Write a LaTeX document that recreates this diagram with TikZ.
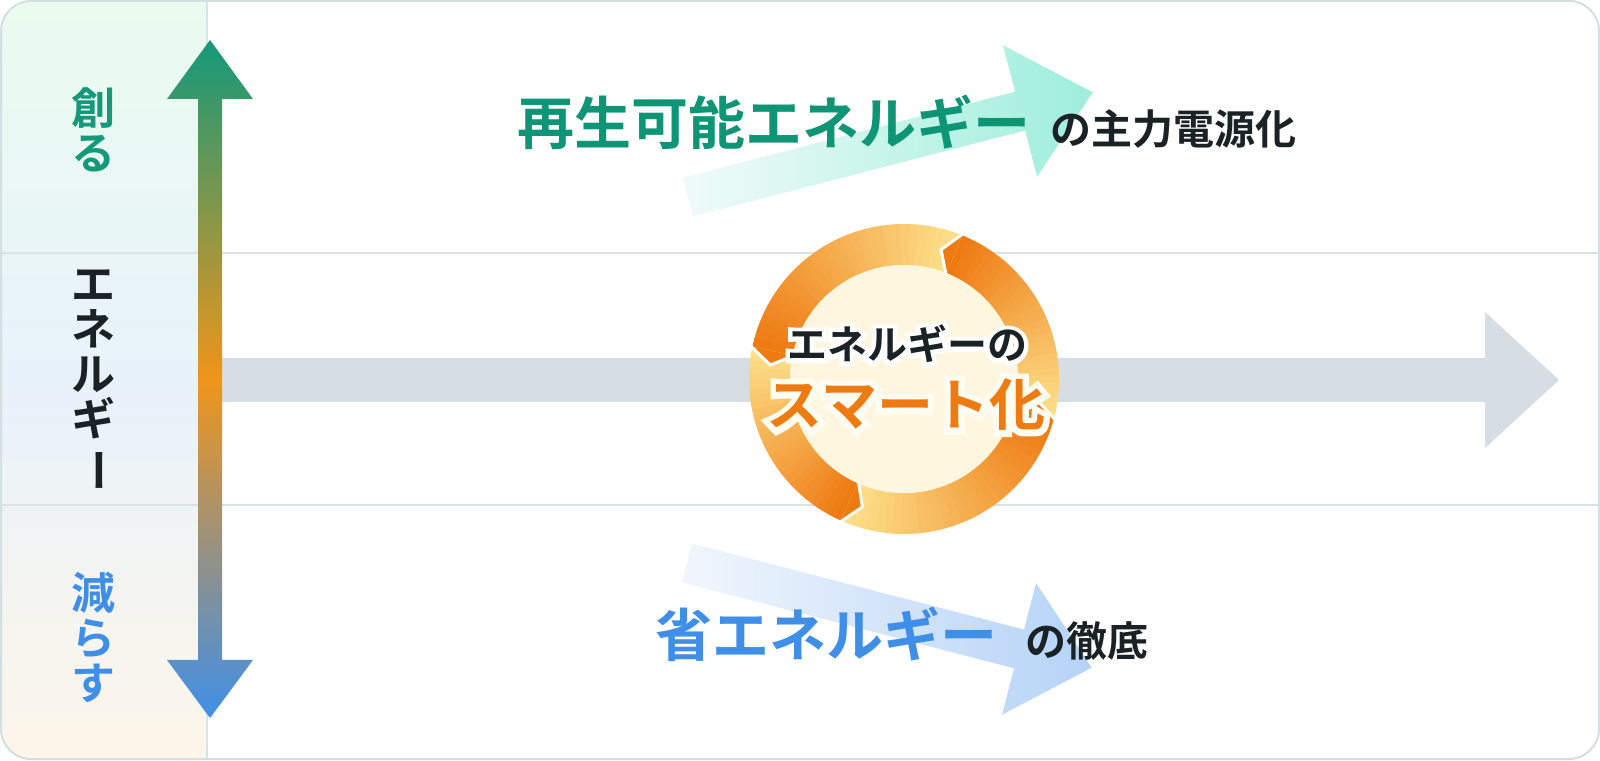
\documentclass[tikz,border=0pt]{standalone}
\usepackage{fontspec}
\setmainfont{Noto Sans CJK JP}[BoldFont={Noto Sans CJK JP Bold}]
\usepackage{graphicx}
\usetikzlibrary{positioning}

\definecolor{frameline}{HTML}{D3DFE0}
\definecolor{gridline}{HTML}{D8E3E4}
\definecolor{panelgreen}{HTML}{EBFBEF}
\definecolor{panelblue}{HTML}{E8F2FB}
\definecolor{panelcream}{HTML}{FDF6E9}
\definecolor{creategreen}{HTML}{14997A}
\definecolor{renewgreen}{HTML}{0E9576}
\definecolor{saveblue}{HTML}{3F8FE8}
\definecolor{midorange}{HTML}{F0951A}
\definecolor{inkdark}{HTML}{1B2225}
\definecolor{flowgrey}{HTML}{D6DDE3}
\definecolor{renewlight}{HTML}{F1FBF9}
\definecolor{renewdark}{HTML}{9EEEDC}
\definecolor{savelight}{HTML}{F1F6FD}
\definecolor{savedark}{HTML}{B5D3F7}
\definecolor{ringlight}{HTML}{FDE08A}
\definecolor{ringdark}{HTML}{EE7A12}
\definecolor{corecream}{HTML}{FFF6DF}
\definecolor{halocream}{HTML}{FFFCF2}

\pgfdeclareverticalshading{updown}{100bp}{color(0bp)=(saveblue); color(25bp)=(saveblue); color(50bp)=(midorange); color(75bp)=(creategreen); color(100bp)=(creategreen)}

% text with a light outline behind it
\newcommand\halotext[3]{\rlap{\addfontfeature{FakeBold=#1}\color{#2}#3}#3}

\tikzset{
  sidetext/.style={font=\bfseries\fontsize{44}{45}\selectfont, align=center, inner sep=0pt},
  bigtext/.style={font=\bfseries\fontsize{57}{57}\selectfont, inner sep=0pt},
  smalltext/.style={font=\bfseries\fontsize{41}{41}\selectfont, text=inkdark, inner sep=0pt},
  coretop/.style={font=\bfseries\fontsize{40}{40}\selectfont, text=inkdark, inner sep=0pt},
  corebig/.style={font=\bfseries\fontsize{56}{56}\selectfont, text=ringdark, inner sep=0pt},
  gridrule/.style={draw=gridline, line width=2pt},
}

\begin{document}
\begin{tikzpicture}[x=1pt, y=1pt]
    \useasboundingbox (0,0) rectangle (1600,760);

    % Frame and left panel
    \fill[white, rounded corners=30pt] (1,1) rectangle (1599,759);
    \begin{scope}
        \clip[rounded corners=30pt] (1,1) rectangle (1599,759);
        \shade[top color=panelgreen, bottom color=panelcream, middle color=panelblue] (0,0) rectangle (207,760);
    \end{scope}

    % Grid lines
    \draw[gridrule] (1,507) -- (1599,507);
    \draw[gridrule] (1,255) -- (1599,255);
    \draw[gridrule] (207,1) -- (207,759);
    \draw[frameline, line width=2pt, rounded corners=30pt] (1,1) rectangle (1599,759);

    % Grey flow arrow
    \fill[flowgrey] (210,358) -- (1485,358) -- (1485,312) -- (1559,380) -- (1485,448) -- (1485,402) -- (210,402) -- cycle;

    % Vertical double arrow
    \shade[shading=updown] (198,100) -- (167,100) -- (210,42) -- (253,100) -- (222,100) -- (222,661)
        -- (253,661) -- (210,720) -- (167,661) -- (198,661) -- cycle;

    % Diagonal arrows
    \begin{scope}[shift={(688,563)}, rotate=14.5]
        \shade[left color=renewlight, right color=renewdark] (0,-20) -- (343,-20) -- (343,-68) -- (418,0)
            -- (343,68) -- (343,20) -- (0,20) -- cycle;
    \end{scope}
    \begin{scope}[shift={(687,197)}, rotate=-14.5]
        \shade[left color=savelight, right color=savedark] (0,-20) -- (343,-20) -- (343,-68) -- (418,0)
            -- (343,68) -- (343,20) -- (0,20) -- cycle;
    \end{scope}

    % Ring of four arrows
    \begin{scope}[shift={(904,381)}]
        \foreach \tl/\hd in {-15/68, 68/168, 168/246, 246/345} {
            \foreach \i in {0,...,29} {
                \pgfmathsetmacro\sa{\tl+(\hd-\tl)*\i/30}
                \pgfmathsetmacro\ea{\tl+(\hd-\tl)*(\i+1)/30+0.3}
                \pgfmathtruncatemacro\mixp{100*\i/29}
                \fill[ringdark!\mixp!ringlight] (\sa:155) arc[start angle=\sa, end angle=\ea, radius=155]
                    -- (\ea:114) arc[start angle=\ea, end angle=\sa, radius=114] -- cycle;
            }
        }
        \foreach \hd in {68, 168, 246, 345} {
            \fill[ringdark] (\hd:155) -- (\hd+6:134.5) -- (\hd:114) -- cycle;
            \draw[white, line width=3pt] (\hd-0.4:158) -- (\hd+6:134.5) -- (\hd-0.4:111);
        }
        \fill[corecream] (0,0) circle[radius=114];
    \end{scope}

    % Text in the ring
    \node[coretop] (coretop) at (907,416) {\halotext{22}{white}{エネルギーの}};
    \node[corebig] (corebig) at (906,355) {\halotext{22}{halocream}{スマート化}};

    % Labels right
    \node[bigtext, text=renewgreen] (renew) at (774,638) {再生可能エネルギー};
    \node[smalltext, right=20pt of renew.base east, anchor=base west] (renewgoal) {の主力電源化};
    \node[bigtext, text=saveblue] (saving) at (826,126) {省エネルギー};
    \node[smalltext, right=28pt of saving.base east, anchor=base west] (savinggoal) {の徹底};

    % Labels left
    \node[sidetext, text=creategreen] (create) at (93,630) {創\\る};
    \node[sidetext, text=inkdark] (energy) at (93,379) {エ\\ネ\\ル\\ギ\\\rotatebox[origin=c]{-90}{ー}};
    \node[sidetext, text=saveblue] (reduce) at (93,123) {減\\ら\\す};
\end{tikzpicture}
\end{document}
